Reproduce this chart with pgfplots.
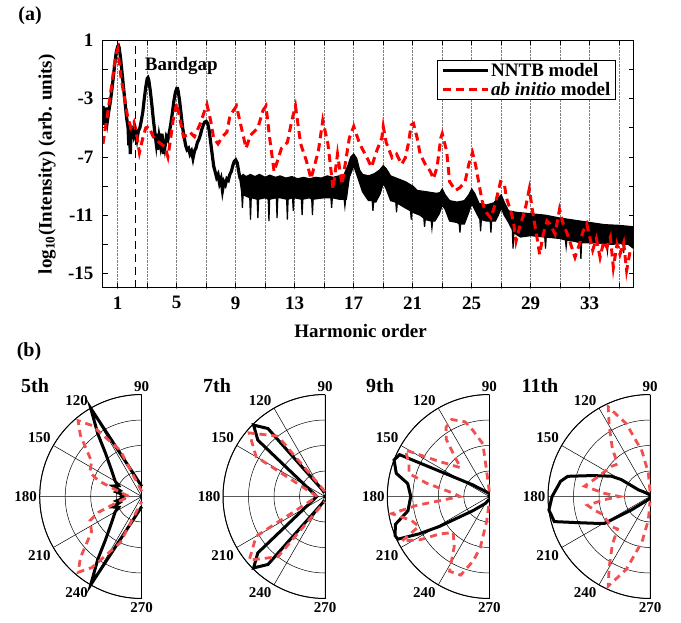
\documentclass[border=0pt]{standalone}
\usepackage{fontspec}
\setmainfont{Liberation Serif}
\usepackage{pgfplots}
\pgfplotsset{compat=1.18}
\usepgfplotslibrary{polar}
\definecolor{pred}{RGB}{240,80,80}

\newcommand{\tfont}{\fontsize{19}{21}\selectfont\bfseries}
\newcommand{\pfont}{\fontsize{15}{17}\selectfont\bfseries}
\newcommand{\polarticks}{%
  \node[font=\pfont, anchor=south, inner sep=3pt] at (axis cs:90,1) {90};
  \node[font=\pfont, anchor=south east, inner sep=2.5pt] at (axis cs:120,1) {120};
  \node[font=\pfont, anchor=south east, inner sep=2.5pt] at (axis cs:150,1) {150};
  \node[font=\pfont, anchor=east, inner sep=2.5pt] at (axis cs:180,1) {180};
  \node[font=\pfont, anchor=north east, inner sep=2.5pt] at (axis cs:210,1) {210};
  \node[font=\pfont, anchor=north east, inner sep=2.5pt] at (axis cs:240,1) {240};
  \node[font=\pfont, anchor=north, inner sep=4pt] at (axis cs:270,1) {270};}

\pgfplotsset{
  hhgpolar/.style={
    anchor=origin, width=204pt, height=204pt, scale only axis, clip=false,
    xmin=90, xmax=270, ymin=0, ymax=1,
    xtick={90,120,...,270}, ytick={0.25,0.5,0.75,1},
    yticklabels={}, yticklabel style={opacity=0, text opacity=0},
    xticklabels={}, xticklabel style={opacity=0, text opacity=0},
    grid=major, minor tick num=0,
    grid style={black, line width=0.5pt},
    major tick length=0pt,
    axis line style={black, line width=1pt},
  },
  nn/.style={black, line width=3pt},
  ab/.style={pred, line width=2.8pt, dash pattern=on 7pt off 5pt},
}

\begin{document}
\begin{tikzpicture}
\path[use as bounding box] (0pt,0pt) rectangle (681pt,-623pt);

% ---------- (a) spectrum ----------
\begin{axis}[
  at={(103pt,-40.5pt)}, anchor=north west,
  width=531pt, height=247.5pt, scale only axis,
  xmin=0, xmax=36, ymin=-16, ymax=1,
  xtick={1,5,...,33}, minor xtick={3,7,...,35},
  ytick={-15,-11,-7,-3,1}, minor ytick={-13,-9,-5,-1},
  xmajorgrids, xminorgrids,
  grid style={densely dotted, gray, line width=0.6pt},
  tick align=inside, major tick length=5pt, minor tick length=5pt,
  tick style={black, line width=0.8pt},
  axis line style={line width=1pt},
  /pgf/number format/assume math mode=true,
  tick label style={font=\tfont},
  xticklabel style={yshift=-5pt},
  yticklabel style={xshift=-6pt},
  xlabel={Harmonic order},
  ylabel={log\textsubscript{10}(Intensity) (arb. units)},
  label style={font=\tfont},
  xlabel style={at={(axis description cs:0.485,-0.174)}, anchor=center},
  ylabel style={at={(axis description cs:-0.105,0.5)}, anchor=center},
  legend cell align=left,
  legend style={at={(axis description cs:0.966,0.921)}, anchor=north east,
    draw=black, line width=1pt, font=\tfont, inner xsep=3pt, inner ysep=1pt},
  legend image code/.code={\draw[#1] (0pt,0pt) -- (45pt,0pt);},
]
\addplot[black, line width=3.2pt] coordinates {
(0.0,-3.5)(0.1,-4.8)(0.2,-3.6)(0.3,-4.5)(0.4,-3.8)(0.5,-3.2)(0.6,-2.4)(0.7,-1.5)
(0.8,-0.6)(0.9,0.2)(1.0,0.6)(1.05,0.65)(1.1,0.5)(1.2,-0.3)(1.3,-1.3)(1.4,-2.3)
(1.5,-3.3)(1.6,-4.3)(1.7,-5.0)(1.75,-6.2)(1.8,-5.2)(1.85,-6.8)(1.9,-5.3)(2.0,-5.1)
(2.1,-5.6)(2.2,-5.3)(2.3,-5.8)(2.4,-5.2)(2.5,-5.0)(2.6,-4.5)(2.7,-3.9)(2.8,-3.0)
(2.9,-2.2)(3.0,-1.6)(3.05,-1.55)(3.1,-1.7)(3.2,-2.4)(3.3,-3.3)(3.4,-4.3)(3.5,-5.2)
(3.6,-6.0)(3.65,-5.4)(3.7,-6.5)(3.8,-5.6)(3.9,-6.2)(4.0,-5.4)(4.1,-6.8)(4.15,-5.9)
(4.2,-6.3)(4.3,-5.6)(4.4,-5.8)(4.5,-5.3)(4.6,-4.7)(4.7,-4.0)(4.8,-3.2)(4.9,-2.6)
(5.0,-2.3)(5.05,-2.3)(5.1,-2.5)(5.2,-3.2)(5.3,-4.1)(5.4,-5.0)(5.5,-5.6)(5.6,-6.2)
(5.7,-6.5)(5.8,-6.4)(5.9,-6.8)(6.0,-6.6)(6.1,-7.1)(6.2,-6.6)(6.3,-6.4)(6.4,-6.0)
(6.5,-5.8)(6.6,-5.5)(6.7,-5.1)(6.8,-4.8)(6.9,-4.6)(7.0,-4.55)(7.1,-4.7)(7.2,-5.2)
(7.3,-6.0)(7.4,-6.8)(7.5,-7.6)(7.6,-8.0)(7.7,-8.4)(7.8,-8.2)(7.9,-8.8)(8.0,-8.5)
(8.1,-9.3)(8.2,-8.7)(8.3,-8.9)(8.4,-8.5)(8.5,-8.6)(8.6,-8.2)(8.7,-8.0)(8.8,-7.6)
(8.9,-7.3)(9.0,-7.2)(9.1,-7.4)(9.2,-8.0)(9.3,-8.5)
};
\addlegendentry{NNTB model}
\addplot[black, fill=black, line width=1.2pt, forget plot] coordinates {
(9.2,-8.0)(9.3,-8.4)(9.5,-8.2)(9.7,-8.35)(10.0,-8.2)(10.3,-8.35)(10.6,-8.2)(11.0,-8.4)
(11.3,-8.25)(11.7,-8.4)(12.0,-8.3)(12.4,-8.45)(12.8,-8.35)(13.2,-8.5)(13.6,-8.4)(14.0,-8.5)
(14.4,-8.4)(14.8,-8.45)(15.2,-8.3)(15.6,-8.4)(16.0,-8.3)(16.35,-8.2)(16.6,-7.6)(16.8,-7.0)
(17.0,-6.8)(17.2,-7.1)(17.4,-7.9)(17.6,-8.2)(18.0,-8.3)(18.4,-8.15)(18.75,-7.9)(19.0,-7.6)
(19.2,-7.8)(19.5,-8.3)(20.0,-8.5)(20.5,-8.7)(21.0,-9.0)(21.3,-9.3)(22.0,-9.4)(22.6,-9.5)
(22.85,-9.45)(23.0,-9.2)(23.2,-9.6)(23.5,-10.0)(24.0,-10.1)(24.5,-10.0)(24.8,-9.6)(25.0,-9.2)
(25.2,-9.5)(25.5,-10.2)(26.0,-10.3)(26.5,-10.15)(26.8,-9.8)(27.0,-9.6)(27.2,-10.1)(27.5,-10.7)
(28.0,-10.8)(29.0,-10.9)(30.0,-11.0)(31.0,-11.2)(32.0,-11.35)(33.0,-11.5)(34.0,-11.65)(35.0,-11.7)
(36.0,-11.8)
(36.0,-13.3)(35.6,-13.0)(35.35,-13.0)(35.3,-13.6)(35.25,-13.0)(35.0,-12.9)(34.6,-13.0)(34.25,-13.0)
(34.2,-13.5)(34.15,-13.0)(33.5,-12.9)(33.0,-12.9)(32.45,-12.9)(32.4,-14.0)(32.35,-12.9)(32.0,-12.8)
(31.45,-12.7)(31.4,-13.2)(31.35,-12.7)(31.0,-12.6)(30.05,-12.5)(30.0,-13.3)(29.95,-12.5)(29.0,-12.4)
(28.3,-12.5)(27.85,-12.2)(27.8,-13.3)(27.75,-12.0)(27.5,-11.5)(27.2,-11.0)(27.0,-10.5)(26.8,-11.0)
(26.6,-11.4)(26.35,-11.4)(26.3,-12.2)(26.25,-11.4)(26.0,-11.4)(25.65,-11.3)(25.6,-12.1)(25.55,-11.3)
(25.3,-10.8)(25.0,-10.2)(24.8,-10.8)(24.5,-11.6)(24.25,-11.6)(24.2,-12.2)(24.15,-11.6)(24.0,-11.5)
(23.5,-11.4)(23.2,-10.6)(23.0,-10.3)(22.8,-10.9)(22.5,-11.4)(22.35,-11.4)(22.3,-11.9)(22.25,-11.4)
(21.85,-11.3)(21.8,-11.8)(21.75,-11.2)(21.5,-11.0)(21.0,-10.8)(20.95,-10.8)(20.9,-11.3)(20.85,-10.7)
(20.5,-10.5)(20.0,-10.2)(19.95,-10.2)(19.9,-10.8)(19.85,-10.1)(19.5,-10.0)(19.2,-9.2)(19.0,-8.8)
(18.8,-9.5)(18.5,-10.1)(18.35,-10.1)(18.3,-10.7)(18.25,-10.0)(18.0,-10.0)(17.6,-9.4)(17.3,-8.5)
(17.0,-7.6)(16.7,-8.4)(16.5,-9.9)(16.45,-9.9)(16.4,-10.4)(16.35,-9.9)(16.0,-9.9)(15.55,-9.8)
(15.5,-10.5)(15.45,-9.8)(15.0,-9.8)(14.25,-9.9)(14.2,-11.0)(14.15,-9.9)(14.0,-9.8)(13.55,-9.9)
(13.5,-11.0)(13.45,-9.9)(12.95,-9.8)(12.9,-10.7)(12.85,-9.8)(12.55,-9.9)(12.5,-11.3)(12.45,-9.9)
(12.0,-9.8)(11.85,-9.8)(11.8,-11.2)(11.75,-9.8)(11.3,-9.9)(11.25,-11.4)(11.2,-9.9)(11.0,-9.8)
(10.55,-9.9)(10.5,-11.2)(10.45,-9.9)(10.05,-9.8)(10.0,-11.3)(9.95,-9.8)(9.5,-9.6)(9.45,-10.5)
(9.4,-9.4)(9.2,-8.0)
} -- cycle;
\addplot[red, line width=3pt, dash pattern=on 8pt off 5pt] coordinates {
(0,-6.1)(0.1,-5.4)(0.25,-4.5)(0.43,-3.2)(0.6,-2.0)(0.77,-0.65)(0.9,0.1)(1.0,0.4)
(1.1,-0.5)(1.23,-1.6)(1.45,-2.9)(1.68,-4.3)(1.9,-5.0)(2.1,-4.6)(2.24,-5.2)(2.47,-6.7)
(2.7,-5.7)(2.9,-5.0)(3.1,-4.9)(3.4,-5.6)(3.8,-6.0)(4.2,-6.3)(4.4,-7.0)(4.55,-6.0)
(4.75,-4.5)(5.0,-3.3)(5.2,-4.3)(5.45,-5.6)(5.7,-5.5)(5.9,-5.3)(6.2,-5.6)(6.6,-4.7)
(6.9,-3.8)(7.05,-3.4)(7.3,-4.5)(7.5,-5.7)(7.8,-6.1)(8.1,-5.6)(8.4,-5.3)(8.6,-4.2)
(8.85,-3.8)(9.05,-3.5)(9.34,-4.8)(9.7,-6.4)(10.0,-5.5)(10.5,-5.0)(10.85,-3.8)(11.05,-3.5)
(11.3,-5.7)(11.6,-8.0)(12.1,-6.4)(12.5,-6.0)(12.8,-4.5)(13.05,-3.5)(13.4,-6.1)(13.8,-7.3)
(14.1,-8.5)(14.6,-6.6)(14.9,-4.5)(15.25,-6.1)(15.6,-9.2)(15.9,-6.8)(16.2,-8.9)(16.7,-5.7)
(17.0,-4.9)(17.4,-6.1)(17.9,-7.05)(18.2,-7.7)(18.55,-6.6)(18.9,-5.7)(19.0,-4.9)(19.2,-6.0)
(19.6,-7.05)(19.9,-6.8)(20.25,-7.5)(20.5,-7.05)(20.7,-6.1)(20.9,-4.8)(21.05,-4.7)(21.3,-5.7)
(21.5,-6.8)(21.85,-7.5)(22.2,-8.0)(22.4,-8.5)(22.65,-7.7)(22.9,-5.7)(23.0,-5.4)(23.3,-6.6)
(23.5,-8.7)(23.9,-9.3)(24.2,-9.1)(24.55,-8.7)(24.8,-7.5)(25.05,-6.7)(25.25,-7.5)(25.5,-8.9)
(25.7,-10.0)(25.9,-10.7)(26.3,-11.2)(26.6,-10.2)(26.95,-8.7)(27.2,-8.8)(27.35,-9.8)(27.7,-10.9)
(27.85,-11.6)(28.0,-12.8)(28.25,-11.8)(28.6,-10.7)(28.9,-9.2)(29.15,-10.9)(29.5,-13.0)(29.6,-13.7)
(29.85,-12.3)(30.1,-11.4)(30.3,-11.6)(30.65,-12.3)(30.95,-10.6)(31.2,-11.6)(31.45,-12.2)(31.65,-12.8)
(32.0,-13.9)(32.3,-13.0)(32.55,-12.1)(32.8,-11.6)(33.2,-13.4)(33.45,-12.6)(33.7,-13.9)(33.95,-12.8)
(34.15,-13.2)(34.4,-12.5)(34.6,-14.6)(34.85,-13.0)(35.05,-13.7)(35.3,-12.9)(35.5,-14.8)(35.75,-13.4)
(36.0,-13.4)
};
\addlegendentry{\textit{ab initio} model}
\addplot[black, line width=1.3pt, dash pattern=on 8pt off 5pt, forget plot]
  coordinates {(2.22,-16)(2.22,1)};
\node[font=\tfont, anchor=base west, inner sep=0pt] at (axis cs:2.83,-1.07) {Bandgap};
\end{axis}

\node[font=\fontsize{20}{22}\selectfont\bfseries] at (30pt,-16pt) {(a)};
\node[font=\fontsize{20}{22}\selectfont\bfseries] at (29pt,-352pt) {(b)};

% ---------- (b) polar patterns ----------
\begin{polaraxis}[hhgpolar, at={(141.7pt,-496.5pt)}]
\addplot[nn] coordinates {(90,0.1)(120,1.0)(125,0.75)(130,0.55)(140,0.38)(150,0.3)(155,0.25)
 (160,0.3)(165,0.22)(170,0.25)(175,0.18)(180,0.2)(185,0.18)(190,0.25)(195,0.22)(200,0.3)
 (205,0.25)(210,0.3)(220,0.38)(230,0.55)(235,0.75)(240,1.0)(270,0.1)};
\addplot[ab] coordinates {(90,0.05)(115,0.5)(125,0.85)(130,0.97)(135,0.85)(145,0.6)(155,0.56)
 (160,0.45)(170,0.2)(180,0.12)(190,0.2)(200,0.45)(205,0.56)(215,0.6)(225,0.85)(230,0.97)
 (235,0.85)(245,0.5)(270,0.05)};
\polarticks
\end{polaraxis}
\node[font=\fontsize{20}{22}\selectfont\bfseries] at (35pt,-386pt) {5th};

\begin{polaraxis}[hhgpolar, at={(325pt,-496.5pt)}]
\addplot[nn] coordinates {(95,0.04)(130,0.87)(135,0.99)(140,0.86)(180,0.08)(220,0.86)
 (225,0.99)(230,0.87)(265,0.04)};
\addplot[ab] coordinates {(92,0.05)(128,0.75)(140,0.97)(143,0.9)(150,0.78)(178,0.08)
 (182,0.08)(210,0.78)(217,0.9)(220,0.97)(232,0.75)(268,0.05)};
\polarticks
\end{polaraxis}
\node[font=\fontsize{20}{22}\selectfont\bfseries] at (217pt,-386pt) {7th};

\begin{polaraxis}[hhgpolar, at={(489.3pt,-496.5pt)}]
\addplot[nn] coordinates {(90,0.03)(145,0.2)(155,0.97)(159,1.0)(166,0.94)(171,0.81)
 (180,0.77)(190,0.81)(196.5,0.96)(202.5,1.0)(205,0.99)(208,0.78)(211,0.57)(221,0.21)
 (240,0.08)(270,0.03)};
\addplot[ab] coordinates {(90,0.05)(96,0.26)(97,0.52)(104,0.67)(108,0.77)(116,0.84)(122,0.8)
 (127,0.70)(130,0.55)(135,0.4)(145,0.6)(151,0.94)(158,0.85)(164,0.82)(168,0.63)(175,0.35)
 (180,0.29)(185,0.5)(187,0.72)(190,0.97)(197,0.8)(203,0.75)(207,0.96)(212,0.8)(217,0.61)
 (225,0.5)(235,0.6)(242,0.83)(250,0.82)(256,0.65)(260,0.51)(264,0.24)(270,0.05)};
\polarticks
\end{polaraxis}
\node[font=\fontsize{20}{22}\selectfont\bfseries] at (380pt,-386pt) {9th};

\begin{polaraxis}[hhgpolar, at={(650pt,-496.5pt)}]
\addplot[nn] coordinates {(90,0.02)(150,0.13)(149.5,0.33)(152.4,0.43)(160,0.6)(166.2,0.83)
 (170.4,0.89)(173.8,0.91)(180,0.96)(187.6,1.0)(194.7,0.97)(200,0.75)(205,0.62)(210.6,0.52)
 (216,0.22)(270,0.02)};
\addplot[ab] coordinates {(90,0.05)(94,0.23)(100,0.45)(108,0.75)(115,0.97)(120,0.8)(128,0.6)
 (135,0.45)(142,0.48)(160,0.55)(171,0.65)(176,0.45)(180,0.3)(184,0.45)(188,0.62)(195,0.55)
 (200,0.5)(218,0.48)(225,0.45)(232,0.6)(240,0.8)(245,0.97)(252,0.75)(260,0.45)(266,0.23)
 (270,0.05)};
\polarticks
\end{polaraxis}
\node[font=\fontsize{20}{22}\selectfont\bfseries] at (540pt,-386pt) {11th};

\end{tikzpicture}
\end{document}
